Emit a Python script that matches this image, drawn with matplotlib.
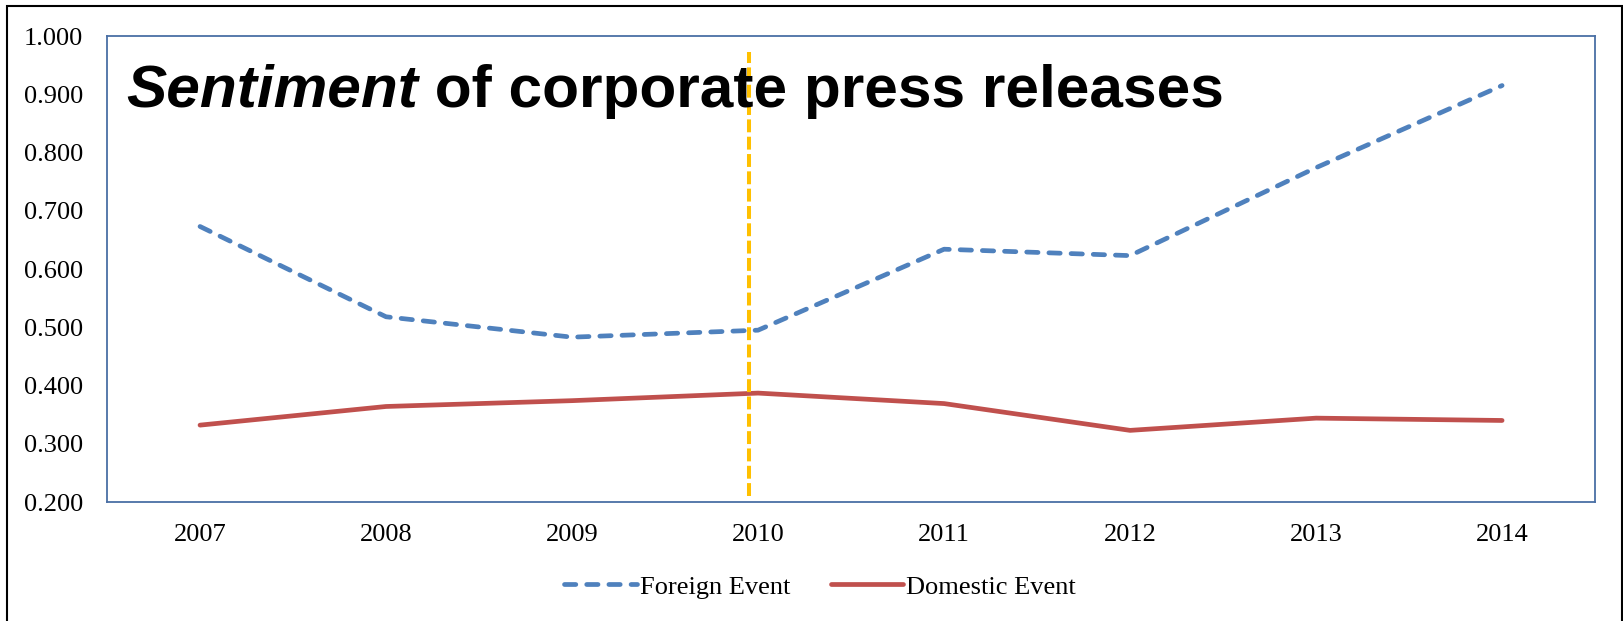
import matplotlib.pyplot as plt
from matplotlib.patches import Rectangle

years = ["2007", "2008", "2009", "2010", "2011", "2012", "2013", "2014"]
foreign = [0.673, 0.518, 0.483, 0.495, 0.634, 0.623, 0.774, 0.915]
domestic = [0.332, 0.364, 0.374, 0.387, 0.369, 0.323, 0.344, 0.340]
yticks = [0.2, 0.3, 0.4, 0.5, 0.6, 0.7, 0.8, 0.9, 1.0]
event_pos = 2.95  # the 2010 marker line, drawn just left of the category centre

serif = ["Liberation Serif", "DejaVu Serif"]
sans = ["Liberation Sans", "DejaVu Sans"]

fig = plt.figure(figsize=(16.24, 6.21), dpi=100)
ax = fig.add_axes([0.0659, 0.1916, 0.9163, 0.7504])

x = range(len(years))
ax.plot(x, foreign, color="#4F81BD", lw=3.4, linestyle=(0, (2.4, 2.3)),
        dash_capstyle="round", label="Foreign Event")
ax.plot(x, domestic, color="#C0504D", lw=3.4, solid_capstyle="round",
        label="Domestic Event")
ax.axvline(event_pos, ymin=0.013, ymax=0.966, color="#FFC000", lw=2.9,
           linestyle=(0, (3.2, 1.1)))

ax.set_xlim(-0.5, len(years) - 0.5)
ax.set_ylim(0.2, 1.0)
ax.set_xticks(list(x))
ax.set_xticklabels(years)
ax.set_yticks(yticks)
ax.set_yticklabels([f"{v:.3f}" for v in yticks])
ax.tick_params(axis="both", length=0, labelsize=19)
ax.tick_params(axis="y", pad=17)
ax.tick_params(axis="x", pad=16)
for lab in ax.get_xticklabels() + ax.get_yticklabels():
    lab.set_fontfamily(serif)
for sp in ax.spines.values():
    sp.set_color("#4A6FA5")
    sp.set_linewidth(1.3)

t1 = ax.text(0.0128, 0.848, "Sentiment", transform=ax.transAxes,
             fontsize=43.5, fontweight="bold", fontstyle="italic",
             family=sans, va="baseline", ha="left", zorder=5)
ax.annotate(" of corporate press releases", xy=(1, 0), xycoords=t1,
            fontsize=43.5, fontweight="bold", family=sans,
            va="bottom", ha="left", zorder=5)

fig.legend(loc="center", bbox_to_anchor=(0.505, 0.0548), ncol=2,
           frameon=False, prop={"family": serif, "size": 19},
           handlelength=2.75, handletextpad=0.1, columnspacing=1.55)

fig.patches.append(Rectangle((0.0043, -0.05), 0.9945, 1.0403,
                             transform=fig.transFigure, fill=False,
                             edgecolor="black", lw=1.5))

fig.savefig("out.png", dpi=100)
